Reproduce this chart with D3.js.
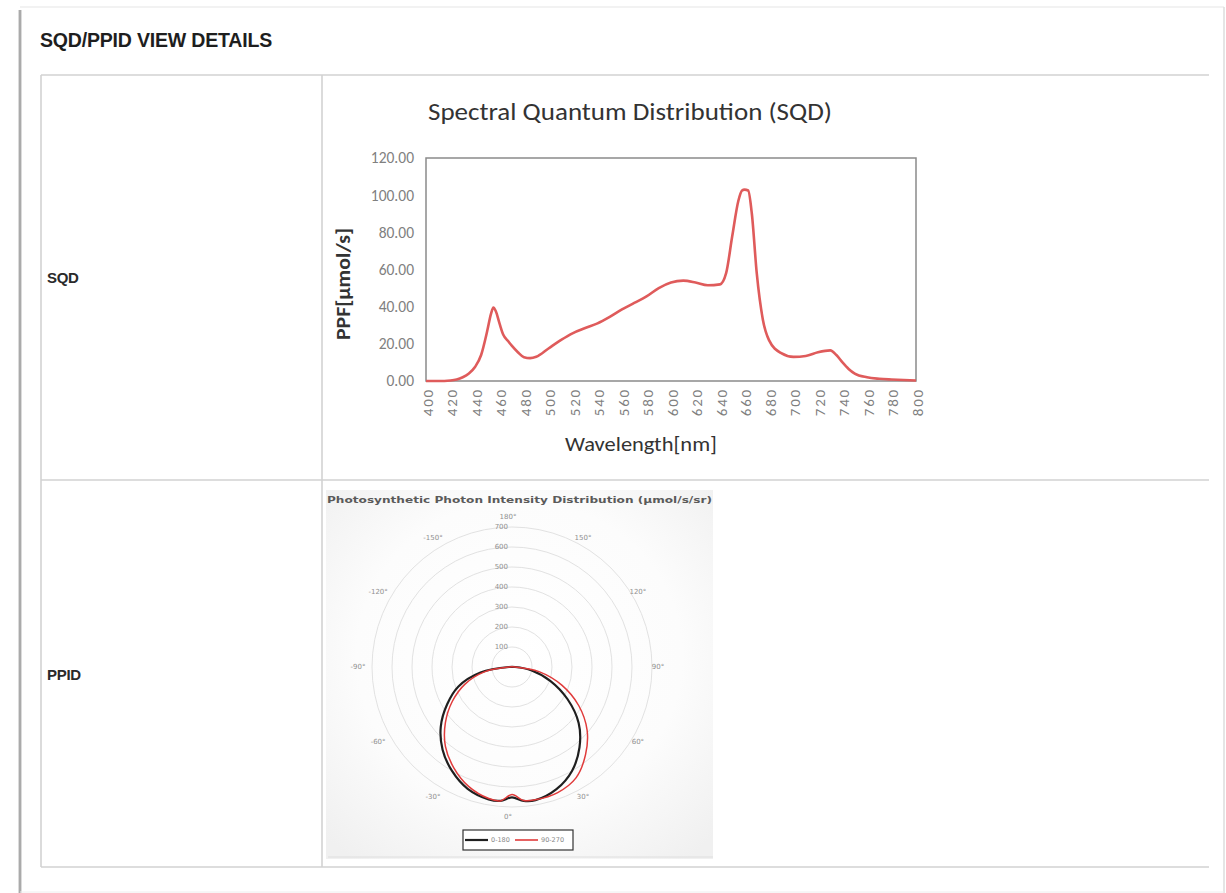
<!DOCTYPE html>
<html>
<head>
<meta charset="utf-8">
<script src="https://cdn.jsdelivr.net/npm/d3@7"></script>
<style>
  body { margin: 0; background: #fff; }
  svg { display: block; }
</style>
</head>
<body>
<svg id="page" width="1226" height="893"></svg>
<script>
// ---- Spectral quantum distribution (PPF per wavelength) ----
const wavelengths = [400,410,420,425,430,435,440,445,450,453,455,457,460,463,467,470,475,480,485,490,
  500,510,520,530,540,550,560,570,580,590,600,610,620,630,640,645,650,655,658,660,663,666,670,675,680,
  690,700,710,720,730,735,740,745,750,760,770,780,790,800];
const ppf = [0,0,0.3,0.8,2,4,7.5,14,27,36,39.5,37.5,31,25,21.5,19,15.5,12.8,12.3,13,
  17.5,22,25.8,28.5,31,34.5,38.5,42,45.5,50,53,54,53,51.5,52,58,78,97,102.5,103,102.5,90,58,33,22,
  15,13,13.5,15.5,16.5,14,10,6.5,4,2,1.2,0.8,0.5,0.3];
const wavelengthTicks = [400,420,440,460,480,500,520,540,560,580,600,620,640,660,680,700,720,740,760,780,800];
const ppfTicks = [0,20,40,60,80,100,120];

// ---- Photosynthetic photon intensity distribution (two C-planes) ----
const ppidAngles = [-90,-80,-70,-60,-50,-40,-30,-20,-10,-5,0,5,10,20,30,40,50,60,70,80,90];
const ppid0_180  = [15,160,285,375,465,540,600,648,672,672,652,672,676,650,600,525,435,320,205,100,15];
const ppid90_270 = [15,140,250,345,435,518,582,635,668,672,638,670,674,668,640,572,490,385,265,140,15];
const ringValues = [100,200,300,400,500,600,700];
const angleLabels = [-150,-120,-90,-60,-30,0,30,60,90,120,150,180];
const legendNames = ["0-180","90-270"];

const rowLabels = ["SQD","PPID"];

const svg = d3.select("#page");
const defs = svg.append("defs");

// ---- page card and table ----
svg.append("rect").attr("x",20).attr("y",7).attr("width",1204).attr("height",890).attr("fill","#fff");
// soft shadow along the card's left edge
[["#e6e6e6",4],["#c4c4c4",2.6],["#a0a0a0",1.4]].forEach(([c,w]) => {
  svg.append("line").attr("x1",20).attr("x2",20).attr("y1",10).attr("y2",893)
    .attr("stroke",c).attr("stroke-width",w);
});
svg.append("line").attr("x1",20).attr("x2",1224).attr("y1",7).attr("y2",7)
  .attr("stroke","#eeeeee").attr("stroke-width",1.5);
svg.append("line").attr("x1",1224).attr("x2",1224).attr("y1",7).attr("y2",893)
  .attr("stroke","#dddddd").attr("stroke-width",1.5);
svg.append("line").attr("x1",20).attr("x2",1224).attr("y1",892).attr("y2",892)
  .attr("stroke","#eeeeee").attr("stroke-width",1);

svg.append("text").attr("x",40).attr("y",47)
  .attr("font-family","Liberation Sans, Arial, sans-serif").attr("font-weight","bold")
  .attr("font-size",19.5).attr("letter-spacing",-0.2).attr("fill","#1e1e1e")
  .attr("textLength",232).attr("lengthAdjust","spacingAndGlyphs")
  .text("SQD/PPID VIEW DETAILS");

const tableStroke = "#d2d2d2";
const table = svg.append("g");
[[41,1209,75,75],[41,1209,480,480],[41,1209,867,867],[41,41,75,867],[322,322,75,867]].forEach(d => {
  table.append("line").attr("x1",d[0]).attr("x2",d[1]).attr("y1",d[2]).attr("y2",d[3])
    .attr("stroke",tableStroke).attr("stroke-width",1.6);
});
table.selectAll("text.row").data(rowLabels).join("text")
  .attr("class","row").attr("x",47).attr("y",(d,i)=> i===0 ? 283 : 680)
  .attr("font-family","Liberation Sans, Arial, sans-serif").attr("font-weight","bold")
  .attr("font-size",15).attr("letter-spacing",-0.3).attr("fill","#2a2a2a").text(d=>d);

// ---- SQD line chart ----
const chartFont = "Carlito, Calibri, Lato, sans-serif";
const plot = {left:426, right:916, top:158, bottom:381};
const x = d3.scaleLinear().domain([400,800]).range([plot.left, plot.right]);
const y = d3.scaleLinear().domain([0,120]).range([plot.bottom, plot.top]);

const sqd = svg.append("g");
sqd.append("text").attr("x",630).attr("y",120).attr("text-anchor","middle")
  .attr("font-family",chartFont).attr("font-size",24).attr("fill","#333")
  .attr("textLength",404).attr("lengthAdjust","spacingAndGlyphs")
  .text("Spectral Quantum Distribution (SQD)");

const yAxis = sqd.append("g").attr("transform",`translate(${plot.left},0)`)
  .call(d3.axisLeft(y).tickValues(ppfTicks).tickFormat(d3.format(".2f")).tickSize(0).tickPadding(12));
yAxis.select(".domain").remove();
yAxis.selectAll("text").attr("font-family",chartFont).attr("font-size",15.5).attr("fill","#808080");

const xAxis = sqd.append("g").attr("transform",`translate(0,${plot.bottom})`)
  .call(d3.axisBottom(x).tickValues(wavelengthTicks).tickFormat(d3.format("d")).tickSize(0));
xAxis.select(".domain").remove();
xAxis.selectAll("text")
  .attr("font-family",chartFont).attr("font-size",15).attr("fill","#808080")
  .attr("letter-spacing",1.8)
  .attr("transform","rotate(-90)").attr("text-anchor","end")
  .attr("x",-7).attr("y",1).attr("dy","0.35em");

sqd.append("rect").attr("x",plot.left).attr("y",plot.top)
  .attr("width",plot.right-plot.left).attr("height",plot.bottom-plot.top)
  .attr("fill","none").attr("stroke","#8a8a8a").attr("stroke-width",1.5);

const line = d3.line().x(d=>x(d[0])).y(d=>y(d[1])).curve(d3.curveMonotoneX);
sqd.append("path").datum(wavelengths.map((w,i)=>[w, ppf[i]]))
  .attr("d",line).attr("fill","none").attr("stroke","#df5b5b").attr("stroke-width",2.6)
  .attr("stroke-linejoin","round");

sqd.append("text").attr("transform","translate(350,284) rotate(-90)").attr("text-anchor","middle")
  .attr("font-family",chartFont).attr("font-weight","bold").attr("font-size",20).attr("fill","#333")
  .attr("textLength",112).attr("lengthAdjust","spacingAndGlyphs")
  .text("PPF[μmol/s]");
sqd.append("text").attr("x",641).attr("y",451).attr("text-anchor","middle")
  .attr("font-family",chartFont).attr("font-size",21).attr("fill","#333")
  .attr("textLength",152).attr("lengthAdjust","spacingAndGlyphs")
  .text("Wavelength[nm]");

// ---- PPID polar chart ----
const pol = svg.append("g");
const grad = defs.append("radialGradient").attr("id","polarBg").attr("cx","50%").attr("cy","45%").attr("r","70%");
grad.append("stop").attr("offset","0%").attr("stop-color","#ffffff");
grad.append("stop").attr("offset","60%").attr("stop-color","#fcfcfc");
grad.append("stop").attr("offset","100%").attr("stop-color","#f0f0f0");
pol.append("rect").attr("x",326).attr("y",490).attr("width",387).attr("height",369).attr("fill","url(#polarBg)");
pol.append("line").attr("x1",328).attr("x2",713).attr("y1",857).attr("y2",857).attr("stroke","#dedede");

pol.append("text").attr("x",327).attr("y",503)
  .attr("font-family","DejaVu Sans, sans-serif").attr("font-weight","bold").attr("font-size",9.5)
  .attr("fill","#5a5a5a").attr("textLength",385).attr("lengthAdjust","spacingAndGlyphs")
  .text("Photosynthetic Photon Intensity Distribution (μmol/s/sr)");

const cx = 512, cy = 667;
const r = d3.scaleLinear().domain([0,700]).range([0,140]);
const center = pol.append("g").attr("transform",`translate(${cx},${cy})`);
center.selectAll("circle.ring").data(ringValues).join("circle")
  .attr("class","ring").attr("r",d=>r(d)).attr("fill","none")
  .attr("stroke","#e2e2e2").attr("stroke-width",1);
center.selectAll("text.ringLbl").data(ringValues).join("text")
  .attr("class","ringLbl").attr("x",-4).attr("y",d=>-r(d)).attr("dy","0.35em")
  .attr("text-anchor","end").attr("font-family","DejaVu Sans, sans-serif").attr("font-size",7)
  .attr("fill","#909090").text(d=>d);
center.selectAll("text.angLbl").data(angleLabels).join("text")
  .attr("class","angLbl")
  .attr("x",d=> 150*Math.sin(d*Math.PI/180) - 4)
  .attr("y",d=> 150*Math.cos(d*Math.PI/180))
  .attr("dy","0.35em").attr("text-anchor","middle")
  .attr("font-family","DejaVu Sans, sans-serif").attr("font-size",7).attr("fill","#909090")
  .text(d=> d + "°");

const radial = d3.lineRadial()
  .angle(d=> Math.PI - d[0]*Math.PI/180)
  .radius(d=> r(d[1]))
  .curve(d3.curveCatmullRomClosed.alpha(0.5));
center.append("path").datum(ppidAngles.map((a,i)=>[a, ppid0_180[i]]))
  .attr("d",radial).attr("fill","none").attr("stroke","#1f1f1f").attr("stroke-width",2.2);
center.append("path").datum(ppidAngles.map((a,i)=>[a, ppid90_270[i]]))
  .attr("d",radial).attr("fill","none").attr("stroke","#e03a3a").attr("stroke-width",1.5);

// legend
const lg = pol.append("g");
lg.append("rect").attr("x",463).attr("y",830).attr("width",110).attr("height",20)
  .attr("fill","#fff").attr("stroke","#333").attr("stroke-width",1.2);
const legendColors = ["#1f1f1f","#e03a3a"];
const legendX = [465, 515];
legendNames.forEach((n,i) => {
  lg.append("line").attr("x1",legendX[i]).attr("x2",legendX[i]+23).attr("y1",840).attr("y2",840)
    .attr("stroke",legendColors[i]).attr("stroke-width",i===0?2.2:1.6);
  lg.append("text").attr("x",legendX[i]+26).attr("y",840).attr("dy","0.35em")
    .attr("font-family","DejaVu Sans, sans-serif").attr("font-size",6.5).attr("fill","#888").text(n);
});
</script>
</body>
</html>
